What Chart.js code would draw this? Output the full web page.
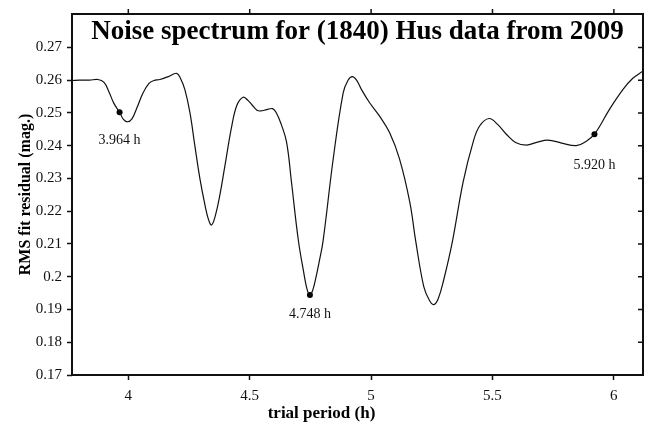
<!DOCTYPE html>
<html>
<head>
<meta charset="utf-8">
<script src="https://cdn.jsdelivr.net/npm/chart.js@4.4.1/dist/chart.umd.min.js"></script>
<style>
  html, body { margin: 0; padding: 0; background: #fff; }
  #wrap { width: 651px; height: 425px; }
</style>
</head>
<body>
<div id="wrap"><canvas id="spectrum" width="651" height="425"></canvas></div>
<script>
// Trial periods (h) and RMS residual of the fit (mag.)
const periods = [
  3.768, 3.800, 3.840, 3.875, 3.900, 3.920, 3.940, 3.964, 3.980, 3.996,
  4.015, 4.035, 4.060, 4.085, 4.105, 4.130, 4.165, 4.199, 4.215, 4.233,
  4.254, 4.274, 4.295, 4.316, 4.330, 4.343, 4.358, 4.377, 4.398, 4.426,
  4.448, 4.473, 4.490, 4.509, 4.530, 4.545, 4.570, 4.594, 4.610, 4.630,
  4.652, 4.672, 4.700, 4.723, 4.736, 4.748, 4.760, 4.772, 4.786, 4.802,
  4.844, 4.885, 4.905, 4.923, 4.940, 4.960, 4.994, 5.035, 5.076, 5.117,
  5.159, 5.184, 5.217, 5.240, 5.258, 5.276, 5.299, 5.335, 5.379, 5.420,
  5.447, 5.486, 5.521, 5.557, 5.595, 5.640, 5.682, 5.728, 5.785, 5.845,
  5.883, 5.920, 5.982, 6.037, 6.077, 6.120
];
const rms = [
  0.2599, 0.2600, 0.2600, 0.2602, 0.2593, 0.2565, 0.2530, 0.2502, 0.2480, 0.2473,
  0.2482, 0.2515, 0.2560, 0.2590, 0.2599, 0.2602, 0.2611, 0.2621, 0.2605, 0.2571,
  0.2500, 0.2400, 0.2299, 0.2218, 0.2175, 0.2158, 0.2185, 0.2249, 0.2339, 0.2460,
  0.2525, 0.2548, 0.2540, 0.2525, 0.2508, 0.2506, 0.2510, 0.2513, 0.2500, 0.2465,
  0.2410, 0.2289, 0.2113, 0.2011, 0.1962, 0.1944, 0.1960, 0.1995, 0.2045, 0.2108,
  0.2360, 0.2561, 0.2600, 0.2611, 0.2600, 0.2572, 0.2531, 0.2490, 0.2440, 0.2360,
  0.2229, 0.2108, 0.1970, 0.1928, 0.1915, 0.1932, 0.1990, 0.2108, 0.2289, 0.2410,
  0.2460, 0.2483, 0.2465, 0.2435, 0.2410, 0.2402, 0.2410, 0.2417, 0.2408, 0.2400,
  0.2412, 0.2435, 0.2511, 0.2571, 0.2605, 0.2628
];

// Marked candidate periods
const peakPeriods = [3.964, 4.748, 5.920];
const peakRms = [0.2502, 0.1944, 0.2435];

// Axis ticks
const xTicks = [4, 4.5, 5, 5.5, 6];
const yTicks = [0.17, 0.18, 0.19, 0.2, 0.21, 0.22, 0.23, 0.24, 0.25, 0.26, 0.27];

const titleText = 'Noise spectrum for (1840) Hus data from 2009';
const labelDrop = [28, 19, 31]; // px below each marked point
const serif = '"Liberation Serif", "Times New Roman", serif';
const ink = '#111';

// frame, mirrored ticks, title and point labels
const framePlugin = {
  id: 'frame',
  afterDraw(chart) {
    const { ctx, chartArea: a, scales } = chart;
    ctx.save();
    ctx.strokeStyle = ink;
    ctx.lineWidth = 2;
    ctx.strokeRect(a.left, a.top, a.right - a.left, a.bottom - a.top);
    ctx.lineWidth = 1.5;
    ctx.beginPath();
    xTicks.forEach(v => {
      const px = scales.x.getPixelForValue(v);
      ctx.moveTo(px, a.top);
      ctx.lineTo(px, a.top - 5);
    });
    yTicks.forEach(v => {
      const py = scales.y.getPixelForValue(v);
      ctx.moveTo(a.right, py);
      ctx.lineTo(a.right - 5, py);
    });
    ctx.stroke();

    ctx.fillStyle = '#000';
    ctx.font = 'bold 27px ' + serif;
    ctx.textAlign = 'center';
    ctx.textBaseline = 'alphabetic';
    ctx.fillText(titleText, (a.left + a.right) / 2, a.top + 24.5);

    ctx.fillStyle = ink;
    ctx.font = '14px ' + serif;
    ctx.textBaseline = 'middle';
    const meta = chart.getDatasetMeta(1);
    meta.data.forEach((pt, i) => {
      ctx.fillText(peakPeriods[i].toFixed(3) + ' h', pt.x, pt.y + labelDrop[i]);
    });
    ctx.restore();
  }
};

const ctx = document.getElementById('spectrum').getContext('2d');

const config = {
  type: 'line',
  data: {
    datasets: [
      {
        data: periods.map((p, i) => ({ x: p, y: rms[i] })),
        borderColor: ink,
        borderWidth: 1.2,
        pointRadius: 0,
        tension: 0.4,
        fill: false
      },
      {
        data: peakPeriods.map((p, i) => ({ x: p, y: peakRms[i] })),
        showLine: false,
        pointRadius: 3,
        pointBackgroundColor: '#000',
        pointBorderWidth: 0
      }
    ]
  },
  options: {
    responsive: false,
    animation: false,
    layout: { padding: { top: 11, right: 8, left: 0, bottom: 0 } },
    plugins: {
      legend: { display: false },
      tooltip: { enabled: false },
      title: {
        display: true,
        position: 'bottom',
        text: 'trial period (h)',
        color: '#000',
        font: { family: serif, size: 17, weight: 'bold' },
        padding: { top: 2, bottom: 1 }
      }
    },
    scales: {
      x: {
        type: 'linear',
        min: 3.768,
        max: 6.12,
        afterFit(scale) { scale.height = 26.6; },
        afterBuildTicks(scale) { scale.ticks = xTicks.map(v => ({ value: v })); },
        border: { display: false },
        grid: { drawOnChartArea: false, drawTicks: true, tickLength: 5, tickWidth: 1.5, tickColor: ink },
        ticks: {
          color: ink,
          padding: 7,
          maxRotation: 0,
          font: { family: serif, size: 15 },
          callback: v => String(v)
        }
      },
      y: {
        type: 'linear',
        min: 0.17,
        max: 0.2802,
        afterFit(scale) { scale.width = 72; },
        afterBuildTicks(scale) { scale.ticks = yTicks.map(v => ({ value: v })); },
        border: { display: false },
        grid: { drawOnChartArea: false, drawTicks: true, tickLength: 5, tickWidth: 1.5, tickColor: ink },
        ticks: {
          color: ink,
          padding: 5,
          font: { family: serif, size: 15 },
          callback: v => String(+v.toFixed(2))
        },
        title: {
          display: true,
          text: 'RMS fit residual (mag.)',
          color: '#000',
          font: { family: serif, size: 16, weight: 'bold' },
          padding: { top: 16, bottom: 0 }
        }
      }
    }
  },
  plugins: [framePlugin]
};

const spectrumChart = new Chart(ctx, config);
</script>
</body>
</html>
